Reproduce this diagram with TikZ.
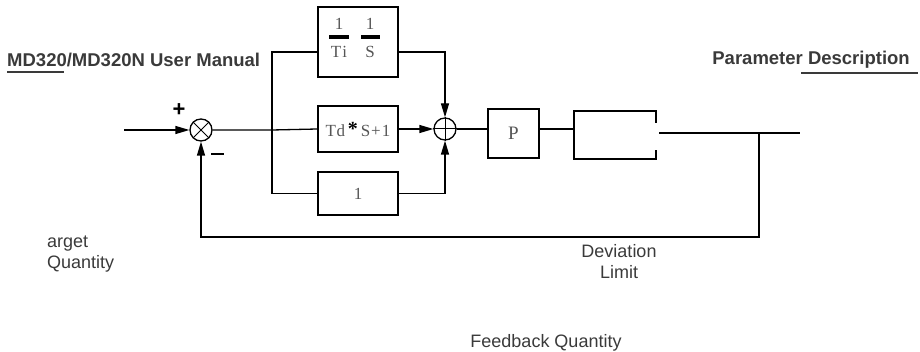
\documentclass[tikz,border=0pt]{standalone}
\usepackage{fontspec}
\setmainfont{Liberation Sans}
\newfontfamily\serifbox{Liberation Serif}
\usetikzlibrary{arrows.meta}
\definecolor{txt}{HTML}{3A3A3A}
\definecolor{boxtxt}{HTML}{555555}
\begin{document}
\begin{tikzpicture}[x=1pt,y=-1pt,
  blk/.style={draw, line width=1.3pt, inner sep=0pt, font=\serifbox\fontsize{17}{19}\selectfont, text=boxtxt},
  wire/.style={line width=1.3pt},
  arr/.style={wire,-{Triangle[length=14pt,width=8pt]}},
  sumnode/.style={draw, circle, line width=1.3pt, minimum size=22pt, inner sep=0pt},
  lbl/.style={font=\fontsize{18}{21}\selectfont, text=txt, inner sep=0pt},
  hdr/.style={font=\bfseries\fontsize{18.5}{21}\selectfont, text=txt, inner sep=0pt},
  sign/.style={font=\bfseries\fontsize{22}{24}\selectfont, inner sep=0pt},
  btxt/.style={font=\serifbox\fontsize{17}{19}\selectfont, text=boxtxt, inner sep=0pt}
]
\useasboundingbox (0,0) rectangle (920,352);

% headers
\node[hdr, anchor=west] (h1) at (7,60) {MD320/MD320N User Manual};
\draw[txt, line width=1.5pt] (h1.south west |- 0,72) -- (64,72);
\node[hdr, anchor=east] (h2) at (910,60) {Parameter Description};
\draw[txt, line width=1.5pt] (801,73) -- (918,73);

% summing junctions
\node[sumnode] (s1) at (201,130) {};
\draw[line width=1pt] (s1.north east) -- (s1.south west) (s1.north west) -- (s1.south east);
\node[sumnode] (s2) at (445,129) {};
\draw[line width=1pt] (s2.north) -- (s2.south) (s2.west) -- (s2.east);

% blocks
\node[blk, minimum width=80pt, minimum height=70pt] (top) at (358,42) {};
\node[blk, minimum width=80pt, minimum height=46pt] (mid) at (358,129) {T\kern0.5pt d\,{\color{black}\bfseries\fontsize{20}{20}\selectfont\raisebox{1pt}{*}}\,S\kern1pt+\kern1pt1};
\node[blk, minimum width=80pt, minimum height=43pt] (bot) at (358,193.5) {1};
\node[blk, minimum width=51pt, minimum height=49pt, font=\serifbox\fontsize{19}{21}\selectfont] (pb) at (513.5,133.5) {P};

% contents of top block
\node[btxt] (n1) at (339,24) {1};
\node[btxt] (d1) at (339,52) {T\kern1pt i};
\node[btxt] (n2) at (370,24) {1};
\node[btxt] (d2) at (370,52) {S};
\fill (329,35) rectangle (349,39);
\fill (361,35) rectangle (380,39);

% open block
\draw[wire] (656,123) -- (656,111) -- (574,111) -- (574,159) -- (656,159) -- (656,150);
\coordinate (b2w) at (574,129);

% wires
\coordinate (in) at (124,130);
\coordinate (br) at (272,130);
\coordinate (outs) at (659,133);
\coordinate (tap) at (759,133);
\coordinate (oute) at (800,133);
\coordinate (fbl) at (759,237);

\draw[arr] (in) -- (s1.west);
\draw[wire] (s1.east) -- (br) -- (mid.west);
\draw[wire] (br) |- ([yshift=-10pt]top.west);
\draw[wire] (br) |- (bot.west);
\draw[arr] ([yshift=-10pt]top.east) -| (s2.north);
\draw[arr] (mid.east) -- (s2.west);
\draw[arr] (bot.east) -| (s2.south);
\draw[wire] (s2.east) -- (pb.west |- s2.east);
\draw[wire] (pb.east |- b2w) -- (b2w);
\draw[wire] (outs) -- (oute);
\draw[arr] (tap) -- (fbl) -| (s1.south);

% signs
\node[sign] (plus) at (179,110) {+};
\fill (211,153) rectangle (224,155.2);
\coordinate (minus) at (217,154);

% labels
\node[lbl, anchor=west, align=left] (tq) at (47,254.5) {arget\\Quantity};
\node[lbl, align=center] (dl) at (619,262) {Deviation\\Limit};
\node[lbl] (fq) at (546,343) {Feedback Quantity};
\end{tikzpicture}
\end{document}
